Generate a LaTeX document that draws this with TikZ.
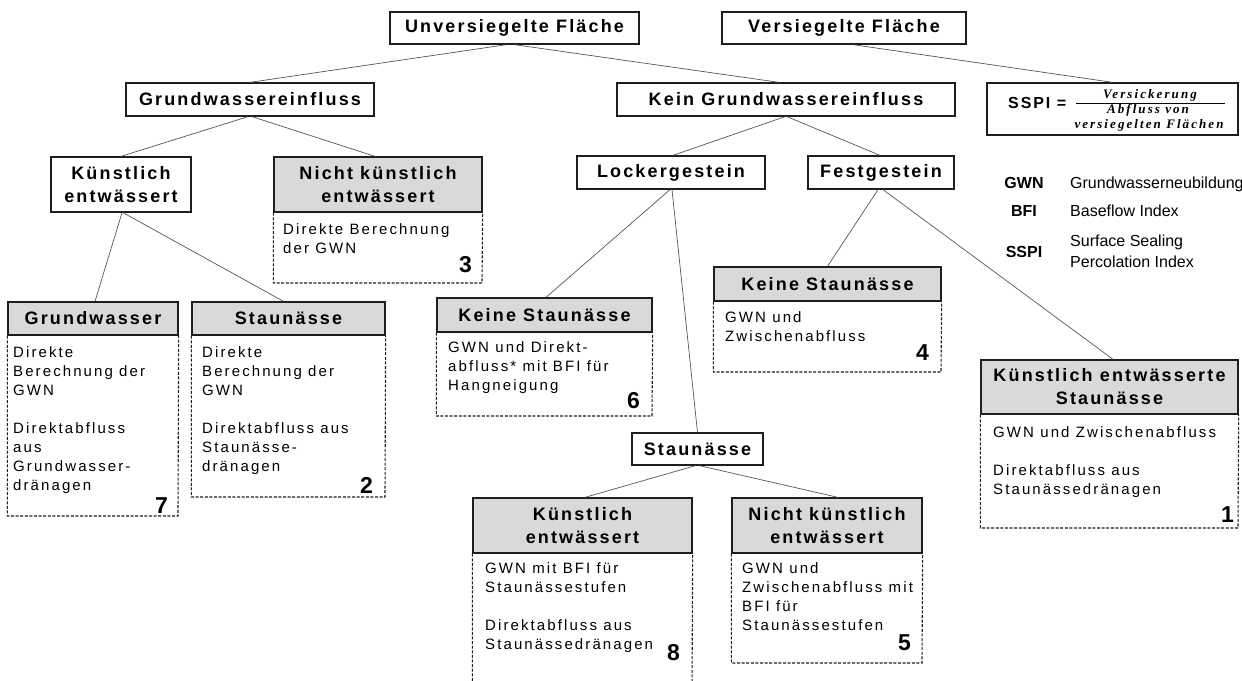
\documentclass[tikz,border=0pt]{standalone}
\usepackage{fontspec}
\setmainfont{Liberation Sans}
\newfontfamily\hdrfont[LetterSpace=12]{Liberation Sans}
\newfontfamily\bodyfont[LetterSpace=14]{Liberation Sans}
\newfontfamily\frmfont[LetterSpace=16]{Liberation Serif}
\usetikzlibrary{calc}
\definecolor{hdrgray}{RGB}{217,217,217}
\definecolor{edgecol}{RGB}{30,30,30}
\definecolor{conncol}{RGB}{85,85,85}
\tikzset{
 box/.style={draw=edgecol, line width=1.3pt, fill=white, inner sep=0pt, font=\hdrfont\bfseries\fontsize{18}{23}\selectfont, align=center},
 hdr/.style={box, fill=hdrgray},
 dbody/.style={draw=edgecol, line width=1.1pt, dash pattern=on 3pt off 1.6pt},
 btext/.style={anchor=north west, inner sep=0pt, font=\bodyfont\fontsize{15}{19}\selectfont, align=left},
 num/.style={anchor=base east, inner sep=0pt, font=\bfseries\fontsize{23}{23}\selectfont},
 conn/.style={draw=conncol, line width=0.7pt},
 legab/.style={anchor=base, inner sep=0pt, font=\bfseries\fontsize{16}{20}\selectfont},
 legtx/.style={anchor=base west, inner sep=0pt, font=\fontsize{16}{20}\selectfont},
 frm/.style={anchor=base, inner sep=0pt, font=\frmfont\bfseries\itshape\fontsize{13}{15}\selectfont},
}
\begin{document}
\begin{tikzpicture}[x=1pt,y=-1pt]
\useasboundingbox (0,0) rectangle (1242,680);

% top level
\node[box, minimum width=249pt, minimum height=32pt] (U) at (514.5,28) {Unversiegelte Fläche};
\node[box, minimum width=244pt, minimum height=32pt] (V) at (844,28) {Versiegelte Fläche};
\node[draw=edgecol, line width=1.3pt, minimum width=251pt, minimum height=52pt, inner sep=0pt] (SSPI) at (1112.5,109) {};
\node[anchor=base west, inner sep=0pt, font=\hdrfont\bfseries\fontsize{16}{18}\selectfont] (sspilab) at (1008,108) {SSPI =};
\draw[line width=0.8pt] (1076,103.3) -- (1225,103.3);
\node[frm] (fnum) at (1150,98) {Versickerung};
\node[frm] (fden1) at (1148,113) {Abfluss von};
\node[frm] (fden2) at (1149,128.5) {versiegelten Flächen};

% second level
\node[box, minimum width=248pt, minimum height=33pt] (GE) at (250,99.5) {Grundwassereinfluss};
\node[box, minimum width=338pt, minimum height=33pt] (KGE) at (786,99.5) {Kein Grundwassereinfluss};

% third level
\node[box, minimum width=140pt, minimum height=55pt] (KE) at (121,184.5) {Künstlich\\entwässert};
\node[hdr, minimum width=208pt, minimum height=55pt] (NKE3) at (378,184.5) {Nicht künstlich\\entwässert};
\coordinate (NKE3b) at (482,283);
\draw[dbody] (NKE3.south west) |- (NKE3b) -- (NKE3.south east);
\node[btext] (NKE3t) at (283,220.7) {\strut Direkte Berechnung\\der GWN};
\node[num] (n3) at (472,272) {3};

\node[box, minimum width=188pt, minimum height=33pt] (LG) at (671,172.5) {Lockergestein};
\node[box, minimum width=146pt, minimum height=33pt] (FG) at (881,172.5) {Festgestein};

% legend
\node[legab] (lgwn) at (1024,188) {GWN};
\node[legtx] (lgwnt) at (1070,188) {Grundwasserneubildung};
\node[legab] (lbfi) at (1024,216) {BFI};
\node[legtx] (lbfit) at (1070,216) {Baseflow Index};
\node[legab] (lsspi) at (1024,257) {SSPI};
\node[legtx] (lsspit1) at (1070,246) {Surface Sealing};
\node[legtx] (lsspit2) at (1070,267) {Percolation Index};

% Grundwasser 7
\node[hdr, minimum width=170pt, minimum height=33pt] (GW7) at (93,318.5) {Grundwasser};
\coordinate (GW7b) at (178,516);
\draw[dbody] (GW7.south west) |- (GW7b) -- (GW7.south east);
\node[btext] (GW7t) at (13,343.7) {\strut Direkte\\Berechnung der\\GWN\\[19pt]Direktabfluss\\aus\\Grundwasser-\\dränagen};
\node[num] (n7) at (168,513) {7};

% Staunaesse 2
\node[hdr, minimum width=193pt, minimum height=33pt] (ST2) at (288.5,318.5) {Staunässe};
\coordinate (ST2b) at (385,497);
\draw[dbody] (ST2.south west) |- (ST2b) -- (ST2.south east);
\node[btext] (ST2t) at (202,343.7) {\strut Direkte\\Berechnung der\\GWN\\[19pt]Direktabfluss aus\\Staunässe-\\dränagen};
\node[num] (n2) at (373,493) {2};

% Keine Staunaesse 6
\node[hdr, minimum width=215pt, minimum height=34pt] (KS6) at (544.5,315) {Keine Staunässe};
\coordinate (KS6b) at (652,416);
\draw[dbody] (KS6.south west) |- (KS6b) -- (KS6.south east);
\node[btext] (KS6t) at (448,338.7) {\strut GWN und Direkt-\\abfluss* mit BFI für\\Hangneigung};
\node[num] (n6) at (640,408) {6};

% Keine Staunaesse 4
\node[hdr, minimum width=227pt, minimum height=34pt] (KS4) at (827.5,284) {Keine Staunässe};
\coordinate (KS4b) at (941,372);
\draw[dbody] (KS4.south west) |- (KS4b) -- (KS4.south east);
\node[btext] (KS4t) at (725,308.7) {\strut GWN und\\Zwischenabfluss};
\node[num] (n4) at (929,360) {4};

% Kuenstlich entwaesserte Staunaesse 1
\node[hdr, minimum width=257pt, minimum height=54pt] (KES1) at (1109.5,387) {Künstlich entwässerte\\Staunässe};
\coordinate (KES1b) at (1238,528);
\draw[dbody] (KES1.south west) |- (KES1b) -- (KES1.south east);
\node[btext] (KES1t) at (993,423.7) {\strut GWN und Zwischenabfluss\\[19pt]Direktabfluss aus\\Staunässedränagen};
\node[num] (n1) at (1234,522) {1};

% Staunaesse middle
\node[box, minimum width=131pt, minimum height=32pt] (STm) at (697.5,449) {Staunässe};

% Kuenstlich entwaessert 8
\node[hdr, minimum width=219pt, minimum height=55pt] (KE8) at (582.5,525.5) {Künstlich\\entwässert};
\coordinate (KE8b) at (692,692);
\draw[dbody] (KE8.south west) |- (KE8b) -- (KE8.south east);
\node[btext] (KE8t) at (485,559.7) {\strut GWN mit BFI für\\Staunässestufen\\[19pt]Direktabfluss aus\\Staunässedränagen};
\node[num] (n8) at (680,660) {8};

% Nicht kuenstlich entwaessert 5
\node[hdr, minimum width=190pt, minimum height=55pt] (NKE5) at (827,525.5) {Nicht künstlich\\entwässert};
\coordinate (NKE5b) at (922,663);
\draw[dbody] (NKE5.south west) |- (NKE5b) -- (NKE5.south east);
\node[btext] (NKE5t) at (742,559.7) {\strut GWN und\\Zwischenabfluss mit\\BFI für\\Staunässestufen};
\node[num] (n5) at (911,650) {5};

% connectors
\draw[conn] ($(U.south)+(-8,0)$) -- (GE.north);
\draw[conn] (U.south) -- ($(KGE.north)+(-7,0)$);
\draw[conn] ($(V.south)+(9,0)$) -- (SSPI.north);
\draw[conn] ($(GE.south)+(-2,0)$) -- (KE.north);
\draw[conn] ($(GE.south)+(2,0)$) -- ($(NKE3.north)+(-3,0)$);
\draw[conn] ($(KE.south)+(1,0)$) -- ($(GW7.north)+(2,0)$);
\draw[conn] ($(KE.south)+(2,0)$) -- ($(ST2.north)+(-5,0)$);
\draw[conn] ($(KGE.south)+(-1,0)$) -- ($(LG.north)+(2,0)$);
\draw[conn] ($(KGE.south)+(1,0)$) -- ($(FG.north)+(-1,0)$);
\draw[conn] ($(LG.south)+(-1,0)$) -- ($(KS6.north)+(1.5,0)$);
\draw[conn] ($(LG.south)+(1,0)$) -- (STm.north);
\draw[conn] ($(FG.south)+(-3,0)$) -- (KS4.north);
\draw[conn] ($(FG.south)+(2,0)$) -- ($(KES1.north)+(3.5,0)$);
\draw[conn] ($(STm.south)+(-2,0)$) -- ($(KE8.north)+(2.5,0)$);
\draw[conn] ($(STm.south)+(2,0)$) -- ($(NKE5.north)+(11,0)$);
\end{tikzpicture}
\end{document}
